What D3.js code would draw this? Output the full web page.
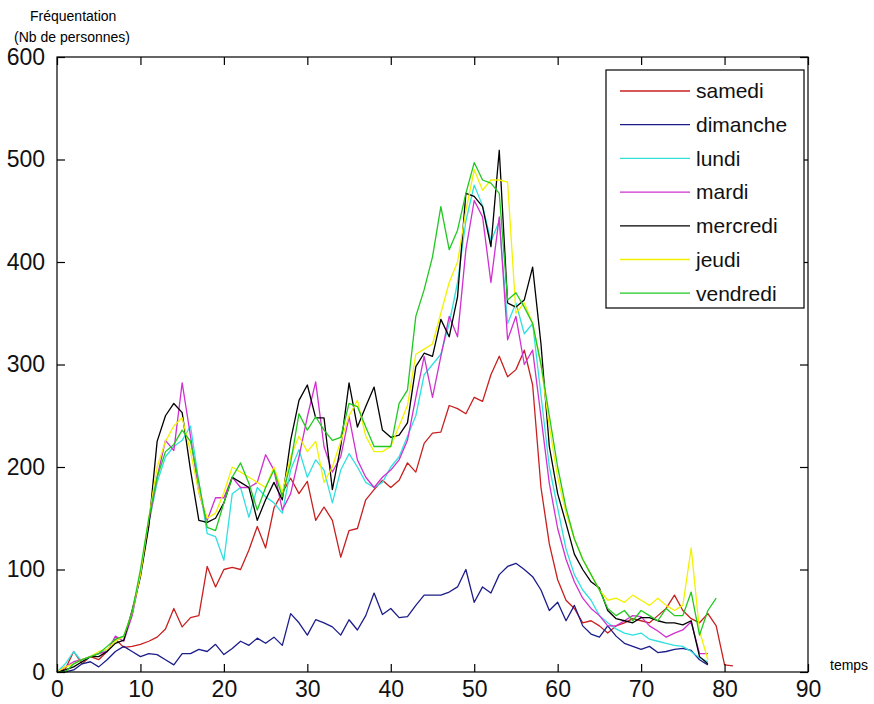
<!DOCTYPE html>
<html><head><meta charset="utf-8">
<script src="https://cdn.jsdelivr.net/npm/d3@7"></script>
<style>
html,body{margin:0;padding:0;background:#fff;}
svg{display:block;}
</style></head>
<body>
<svg id="chart" width="874" height="704"></svg>
<script>
const jours = ["samedi","dimanche","lundi","mardi","mercredi","jeudi","vendredi"];
const couleurs = ["#c82020","#1c1c8a","#30e0e0","#d030d0","#000000","#f2f200","#20c820"];
const xTicks = [0,10,20,30,40,50,60,70,80,90];
const yTicks = [0,100,200,300,400,500,600];

const samedi = [0,3,20,8,15,12,20,32,24,25,27,30,34,42,62,44,53,55,103,83,100,102,100,119,142,121,160,175,189,174,186,148,161,148,112,138,140,168,178,187,180,187,204,195,223,233,234,260,257,252,268,264,290,308,288,295,314,280,180,125,90,70,62,48,50,45,38,45,48,52,50,48,55,62,75,60,52,48,57,45,7,6];
const dimanche = [0,0,2,8,10,5,12,20,25,20,15,18,17,12,7,18,18,22,20,27,17,23,30,26,33,28,34,26,57,48,36,51,48,44,36,51,41,55,77,56,62,53,54,65,75,75,75,78,83,100,68,83,77,95,103,106,100,93,80,60,68,50,65,45,37,34,45,35,28,25,22,25,19,20,22,23,21,12,7];
const lundi = [0,8,20,10,15,18,22,30,35,55,95,145,185,210,220,226,240,185,135,132,109,174,180,151,180,171,165,155,197,217,190,207,197,165,197,213,200,185,180,185,200,210,230,250,290,300,310,340,380,440,475,455,420,440,340,360,330,340,270,200,160,120,95,80,70,55,48,42,38,36,38,32,30,28,26,25,20,14,10];
const mardi = [0,5,10,12,15,18,20,35,30,55,95,145,190,226,216,282,230,175,148,170,170,190,180,180,185,212,197,158,174,210,249,283,220,195,210,249,207,190,180,190,197,207,226,268,308,268,308,347,327,412,460,444,380,444,324,347,300,314,249,184,140,110,88,72,62,55,45,45,50,55,54,45,40,34,38,41,49,18,18];
const mercredi = [0,2,5,10,15,15,20,28,31,60,93,142,225,250,262,253,197,148,146,150,165,190,185,180,148,168,185,168,226,265,280,248,248,178,220,282,239,259,278,236,229,231,243,298,311,308,344,327,366,467,464,454,415,509,360,356,363,395,320,220,174,145,115,100,88,82,60,52,50,48,53,53,50,48,48,46,50,15,8];
const jeudi = [0,5,8,12,15,20,22,30,35,58,95,150,200,225,240,248,215,175,150,155,175,200,195,190,185,180,200,175,210,230,215,225,185,200,225,250,265,230,215,215,220,240,260,310,315,320,350,380,400,450,490,470,480,480,478,350,360,340,300,240,190,155,130,110,95,80,70,72,68,75,70,65,72,65,60,65,121,40,12];
const vendredi = [0,0,8,12,15,18,25,32,35,58,100,150,190,215,222,236,225,185,141,138,165,190,204,184,158,180,197,171,204,252,236,249,236,226,229,262,259,239,220,220,220,262,275,347,373,405,454,412,431,467,497,480,477,467,363,370,356,340,300,250,200,160,130,110,95,80,62,55,60,50,60,55,50,62,55,55,78,36,60,72];

const series = [samedi,dimanche,lundi,mardi,mercredi,jeudi,vendredi];

const svg = d3.select("#chart");
const L = 57, R = 808, T = 57, B = 672;
const x = d3.scaleLinear().domain([0,90]).range([L,R]);
const y = d3.scaleLinear().domain([0,600]).range([B,T]);

const tickFont = "'Liberation Sans Narrow','Arial Narrow',sans-serif";

// lines
const line = d3.line().x((d,i)=>x(i)).y(d=>y(d));
const g = svg.append("g");
series.forEach((s,k)=>{
  g.append("path").datum(s).attr("d",line)
    .attr("fill","none").attr("stroke",couleurs[k]).attr("stroke-width",1.3)
    .attr("stroke-linejoin","round");
});

// box
svg.append("rect").attr("x",L).attr("y",T).attr("width",R-L).attr("height",B-T)
  .attr("fill","none").attr("stroke","#000").attr("stroke-width",1.2);

// axes with inward ticks
const xb = svg.append("g").attr("transform",`translate(0,${B})`)
  .call(d3.axisBottom(x).tickValues(xTicks).tickSizeInner(-8).tickSizeOuter(0).tickPadding(8));
const xt = svg.append("g").attr("transform",`translate(0,${T})`)
  .call(d3.axisTop(x).tickValues(xTicks).tickSizeInner(-8).tickSizeOuter(0).tickFormat(""));
const yl = svg.append("g").attr("transform",`translate(${L},0)`)
  .call(d3.axisLeft(y).tickValues(yTicks).tickSizeInner(-8).tickSizeOuter(0).tickPadding(12));
const yr = svg.append("g").attr("transform",`translate(${R},0)`)
  .call(d3.axisRight(y).tickValues(yTicks).tickSizeInner(-8).tickSizeOuter(0).tickFormat(""));
[xb,xt,yl,yr].forEach(a=>{
  a.select(".domain").remove();
  a.selectAll(".tick line").attr("stroke","#000").attr("stroke-width",1.2);
  a.selectAll("text").attr("font-family",tickFont).attr("font-size",23).attr("fill","#111");
});
xb.selectAll("text").attr("y",8).attr("dy","0.72em");

// axis titles
svg.append("text").attr("x",30).attr("y",21).text("Fréquentation")
  .attr("font-family","'Liberation Sans',Arial,sans-serif").attr("font-size",14).attr("fill","#000");
svg.append("text").attr("x",14).attr("y",42).text("(Nb de personnes)")
  .attr("font-family","'Liberation Sans',Arial,sans-serif").attr("font-size",14).attr("fill","#000");
svg.append("text").attr("x",830).attr("y",670).text("temps")
  .attr("font-family","'Liberation Sans',Arial,sans-serif").attr("font-size",14).attr("fill","#000");

// legend
const lg = svg.append("g");
lg.append("rect").attr("x",606).attr("y",70).attr("width",198).attr("height",238)
  .attr("fill","#fff").attr("stroke","#000").attr("stroke-width",1.2);
jours.forEach((j,k)=>{
  const yy = 91 + k*33.7;
  lg.append("line").attr("x1",620).attr("x2",690).attr("y1",yy).attr("y2",yy)
    .attr("stroke",couleurs[k]).attr("stroke-width",1.3);
  lg.append("text").attr("x",696).attr("y",yy).attr("dy","0.35em").text(j)
    .attr("font-family","'Liberation Sans',Arial,sans-serif").attr("font-size",21).attr("fill","#111");
});
</script>
</body></html>
